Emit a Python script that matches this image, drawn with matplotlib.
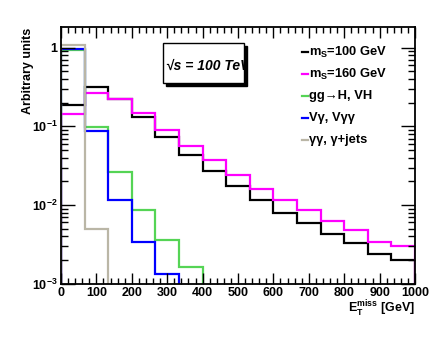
import numpy as np
import matplotlib
matplotlib.use("Agg")
import matplotlib.pyplot as plt
from matplotlib.lines import Line2D
from matplotlib.patches import Rectangle
from matplotlib.ticker import MultipleLocator, LogLocator, FuncFormatter, NullFormatter

plt.rcParams['font.family'] = ['Liberation Sans', 'DejaVu Sans']
plt.rcParams['font.weight'] = 'bold'
plt.rcParams['mathtext.fontset'] = 'custom'
plt.rcParams['mathtext.rm'] = 'Liberation Sans:bold'
plt.rcParams['mathtext.bf'] = 'Liberation Sans:bold'
plt.rcParams['mathtext.it'] = 'Liberation Sans:bold:italic'

# 15 bins of MET, 0-1000 GeV
edges = np.linspace(0, 1000, 16)

ms100 = [0.187, 0.314, 0.225, 0.130, 0.0727, 0.0433, 0.0274, 0.0175,
         0.0116, 0.00794, 0.00597, 0.00433, 0.00333, 0.00241, 0.00200]
ms160 = [0.144, 0.269, 0.225, 0.147, 0.0900, 0.0569, 0.0374, 0.0241,
         0.0162, 0.0115, 0.00875, 0.00623, 0.00479, 0.00343, 0.00299]
ggH = [0.925, 0.098, 0.0263, 0.00867, 0.0036, 0.00165]
vgam = [0.95, 0.0874, 0.0116, 0.00343, 0.00134]
gamjets = [1.08, 0.0050]

labels = [r"m$_\mathrm{S}$=100 GeV", r"m$_\mathrm{S}$=160 GeV",
          "gg\u2192H, VH", "V\u03b3, V\u03b3\u03b3", "\u03b3\u03b3, \u03b3+jets"]
colors = ["black", "#ff00ff", "#55d455", "#0000ff", "#bab6a6"]
series = [ms100, ms160, ggH, vgam, gamjets]

W, H = 432.0, 342.0
fig = plt.figure(figsize=(4.32, 3.42), dpi=100)
ax = fig.add_axes([0.1412, 0.1705, 0.8194, 0.7497])

for vals, c in zip(series, colors):
    n = len(vals)
    ax.stairs(vals, edges[:n + 1], baseline=1e-7, color=c, lw=1.6)

ax.set_yscale('log')
ax.set_xlim(0, 1000)
ax.set_ylim(1e-3, 1.82)

ax.xaxis.set_major_locator(MultipleLocator(100))
ax.xaxis.set_minor_locator(MultipleLocator(20))
ax.yaxis.set_major_locator(LogLocator(base=10, numticks=10))
ax.yaxis.set_minor_locator(LogLocator(base=10, subs=np.arange(2, 10), numticks=10))
ax.yaxis.set_minor_formatter(NullFormatter())

def yfmt(v, pos):
    e = int(round(np.log10(v)))
    if e == 0:
        return "1"
    return r"$10^{%d}$" % e
ax.yaxis.set_major_formatter(FuncFormatter(yfmt))

ax.tick_params(which='both', direction='in', top=True, right=True, labelsize=9, width=1)
ax.tick_params(axis='x', which='major', length=8, pad=2.5)
ax.tick_params(axis='x', which='minor', length=4)
ax.tick_params(axis='y', which='major', length=10, pad=2.5)
ax.tick_params(axis='y', which='minor', length=5)
for s in ax.spines.values():
    s.set_linewidth(1.3)

fig.text(27.5 / W, 1 - 28 / H, "Arbitrary units", fontsize=9, fontweight='bold',
         rotation=90, ha='center', va='top')
fig.text(415 / W, 1 - 309 / H, r"E$_\mathrm{T}^\mathrm{miss}$ [GeV]", fontsize=9,
         fontweight='bold', ha='right', va='center')

# legend, no frame
ys = [52, 74, 96, 118, 140]
for lab, c, y in zip(labels, colors, ys):
    fig.add_artist(Line2D([301.5 / W, 308 / W], [1 - y / H, 1 - y / H], color=c, lw=1.6))
    fig.text(309 / W, 1 - y / H, lab, fontsize=9.3, fontweight='bold', va='center', ha='left')

# energy box with shadow
bx, by, bw, bh = 162.7 / W, 1 - 83 / H, 81.5 / W, 39.7 / H
shadow = Rectangle((bx + 3 / W, by - 3 / H), bw, bh, transform=fig.transFigure,
                   facecolor='black', edgecolor='black', lw=1)
box = Rectangle((bx, by), bw, bh, transform=fig.transFigure,
                facecolor='white', edgecolor='black', lw=1)
fig.add_artist(shadow)
fig.add_artist(box)
t = fig.text(166 / W, 1 - 66 / H, "\u221as = 100 TeV", fontsize=10, fontweight='bold',
             style='italic', va='center', ha='left')
t.set_clip_path(box)

fig.savefig("out.png", dpi=100)
